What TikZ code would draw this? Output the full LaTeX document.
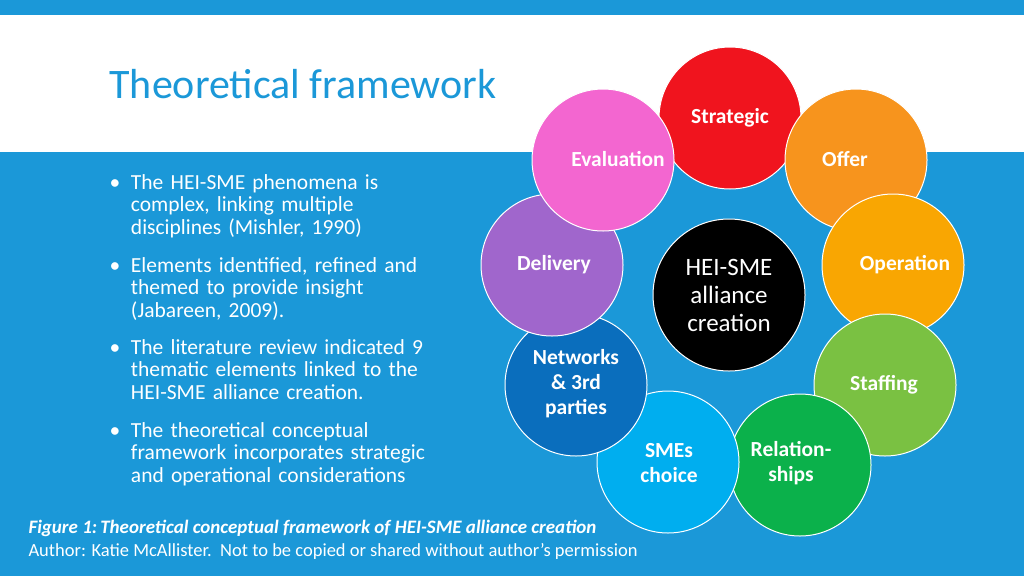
\documentclass[tikz,border=0pt]{standalone}
\usepackage{fontspec}
\setmainfont{Carlito}
\definecolor{bgblue}{HTML}{1B98D8}
\definecolor{titleblue}{HTML}{1B98D8}
\definecolor{cred}{HTML}{F0141E}
\definecolor{corange}{HTML}{F7941D}
\definecolor{cyellow}{HTML}{F9A602}
\definecolor{clgreen}{HTML}{7AC142}
\definecolor{cgreen}{HTML}{0BB14B}
\definecolor{ccyan}{HTML}{00AEEF}
\definecolor{cnavy}{HTML}{0A6EBD}
\definecolor{cpurple}{HTML}{A066CC}
\definecolor{cpink}{HTML}{F366D0}
\tikzset{>=latex}

\begin{document}
\begin{tikzpicture}[x=1pt,y=-1pt]

	\tikzstyle{element} = [circle, draw=white, line width=1pt, minimum size=142pt, inner sep=0pt, text=white, align=center]
	\tikzstyle{bullet} = [anchor=north west, text=white, text width=360pt, font=\fontsize{21.5}{22.5}\selectfont]
	\tikzstyle{label_text} = [text=white, font=\fontsize{21.5}{25}\selectfont\bfseries, align=center]

%------------------------------------------------------------
	\fill[bgblue] (0,0) rectangle (1024,576);
	\fill[white] (0,15) rectangle (1024,152);
	\useasboundingbox (0,0) rectangle (1024,576);

	\node[anchor=west, text=titleblue, font=\fontsize{42}{44}\selectfont] (title) at (106,84) {Theoretical framework};

%------------------------------------------------------------
	\node[element, fill=cred]    (strategic) at (730,118) {};
	\node[element, fill=corange] (offer)     at (856,160) {};
	\node[element, fill=cyellow] (operation) at (893,265) {};
	\node[element, fill=clgreen] (staffing)  at (885,385) {};
	\node[element, fill=cgreen]  (relation)  at (800,465) {};
	\node[element, fill=ccyan]   (smes)      at (668,462) {};
	\node[element, fill=cnavy]   (networks)  at (576,385) {};
	\node[element, fill=cpurple] (delivery)  at (552,265) {};
	\node[element, fill=cpink]   (evaluation) at (603,160) {};
	\node[element, fill=black, minimum size=152pt, font=\fontsize{25}{28}\selectfont] (hub) at (729,295) {HEI-SME\\alliance\\creation};

%------------------------------------------------------------
	\node[label_text] (lstrategic) at (730,118) {Strategic};
	\node[label_text] (loffer) at (845,159) {Offer};
	\node[label_text] (loperation) at (905,265) {Operation};
	\node[label_text] (lstaffing) at (884,385) {Staffing};
	\node[label_text] (lrelation) at (791,463) {Relation-\\ships};
	\node[label_text] (lsmes) at (669,463) {SMEs\\choice};
	\node[label_text] (lnetworks) at (576,384) {Networks\\\& 3rd\\parties};
	\node[label_text] (ldelivery) at (554,265) {Delivery};
	\node[label_text] (levaluation) at (618,159) {Evaluation};

%------------------------------------------------------------
	\node[bullet] (b1) at (106,171) {\textbullet\hspace{0.5em}\parbox[t]{330pt}{The HEI-SME phenomena is\\complex, linking multiple\\disciplines (Mishler, 1990)}};
	\node[bullet] (b2) at (106,254) {\textbullet\hspace{0.5em}\parbox[t]{330pt}{Elements identified, refined and\\themed to provide insight\\(Jabareen, 2009).}};
	\node[bullet] (b3) at (106,336) {\textbullet\hspace{0.5em}\parbox[t]{330pt}{The literature review indicated 9\\thematic elements linked to the\\HEI-SME alliance creation.}};
	\node[bullet] (b4) at (106,419) {\textbullet\hspace{0.5em}\parbox[t]{330pt}{The theoretical conceptual\\framework incorporates strategic\\and operational considerations}};

	\node[anchor=west, text=white, font=\fontsize{19}{21}\selectfont\bfseries\itshape] (caption) at (25,528) {Figure 1:\,Theoretical conceptual framework of HEI-SME alliance creation};
	\node[anchor=west, text=white, font=\fontsize{18.5}{20}\selectfont] (author) at (25,551) {Author: Katie McAllister.\ \ Not to be copied or shared without author’s permission};

\end{tikzpicture}
\end{document}
